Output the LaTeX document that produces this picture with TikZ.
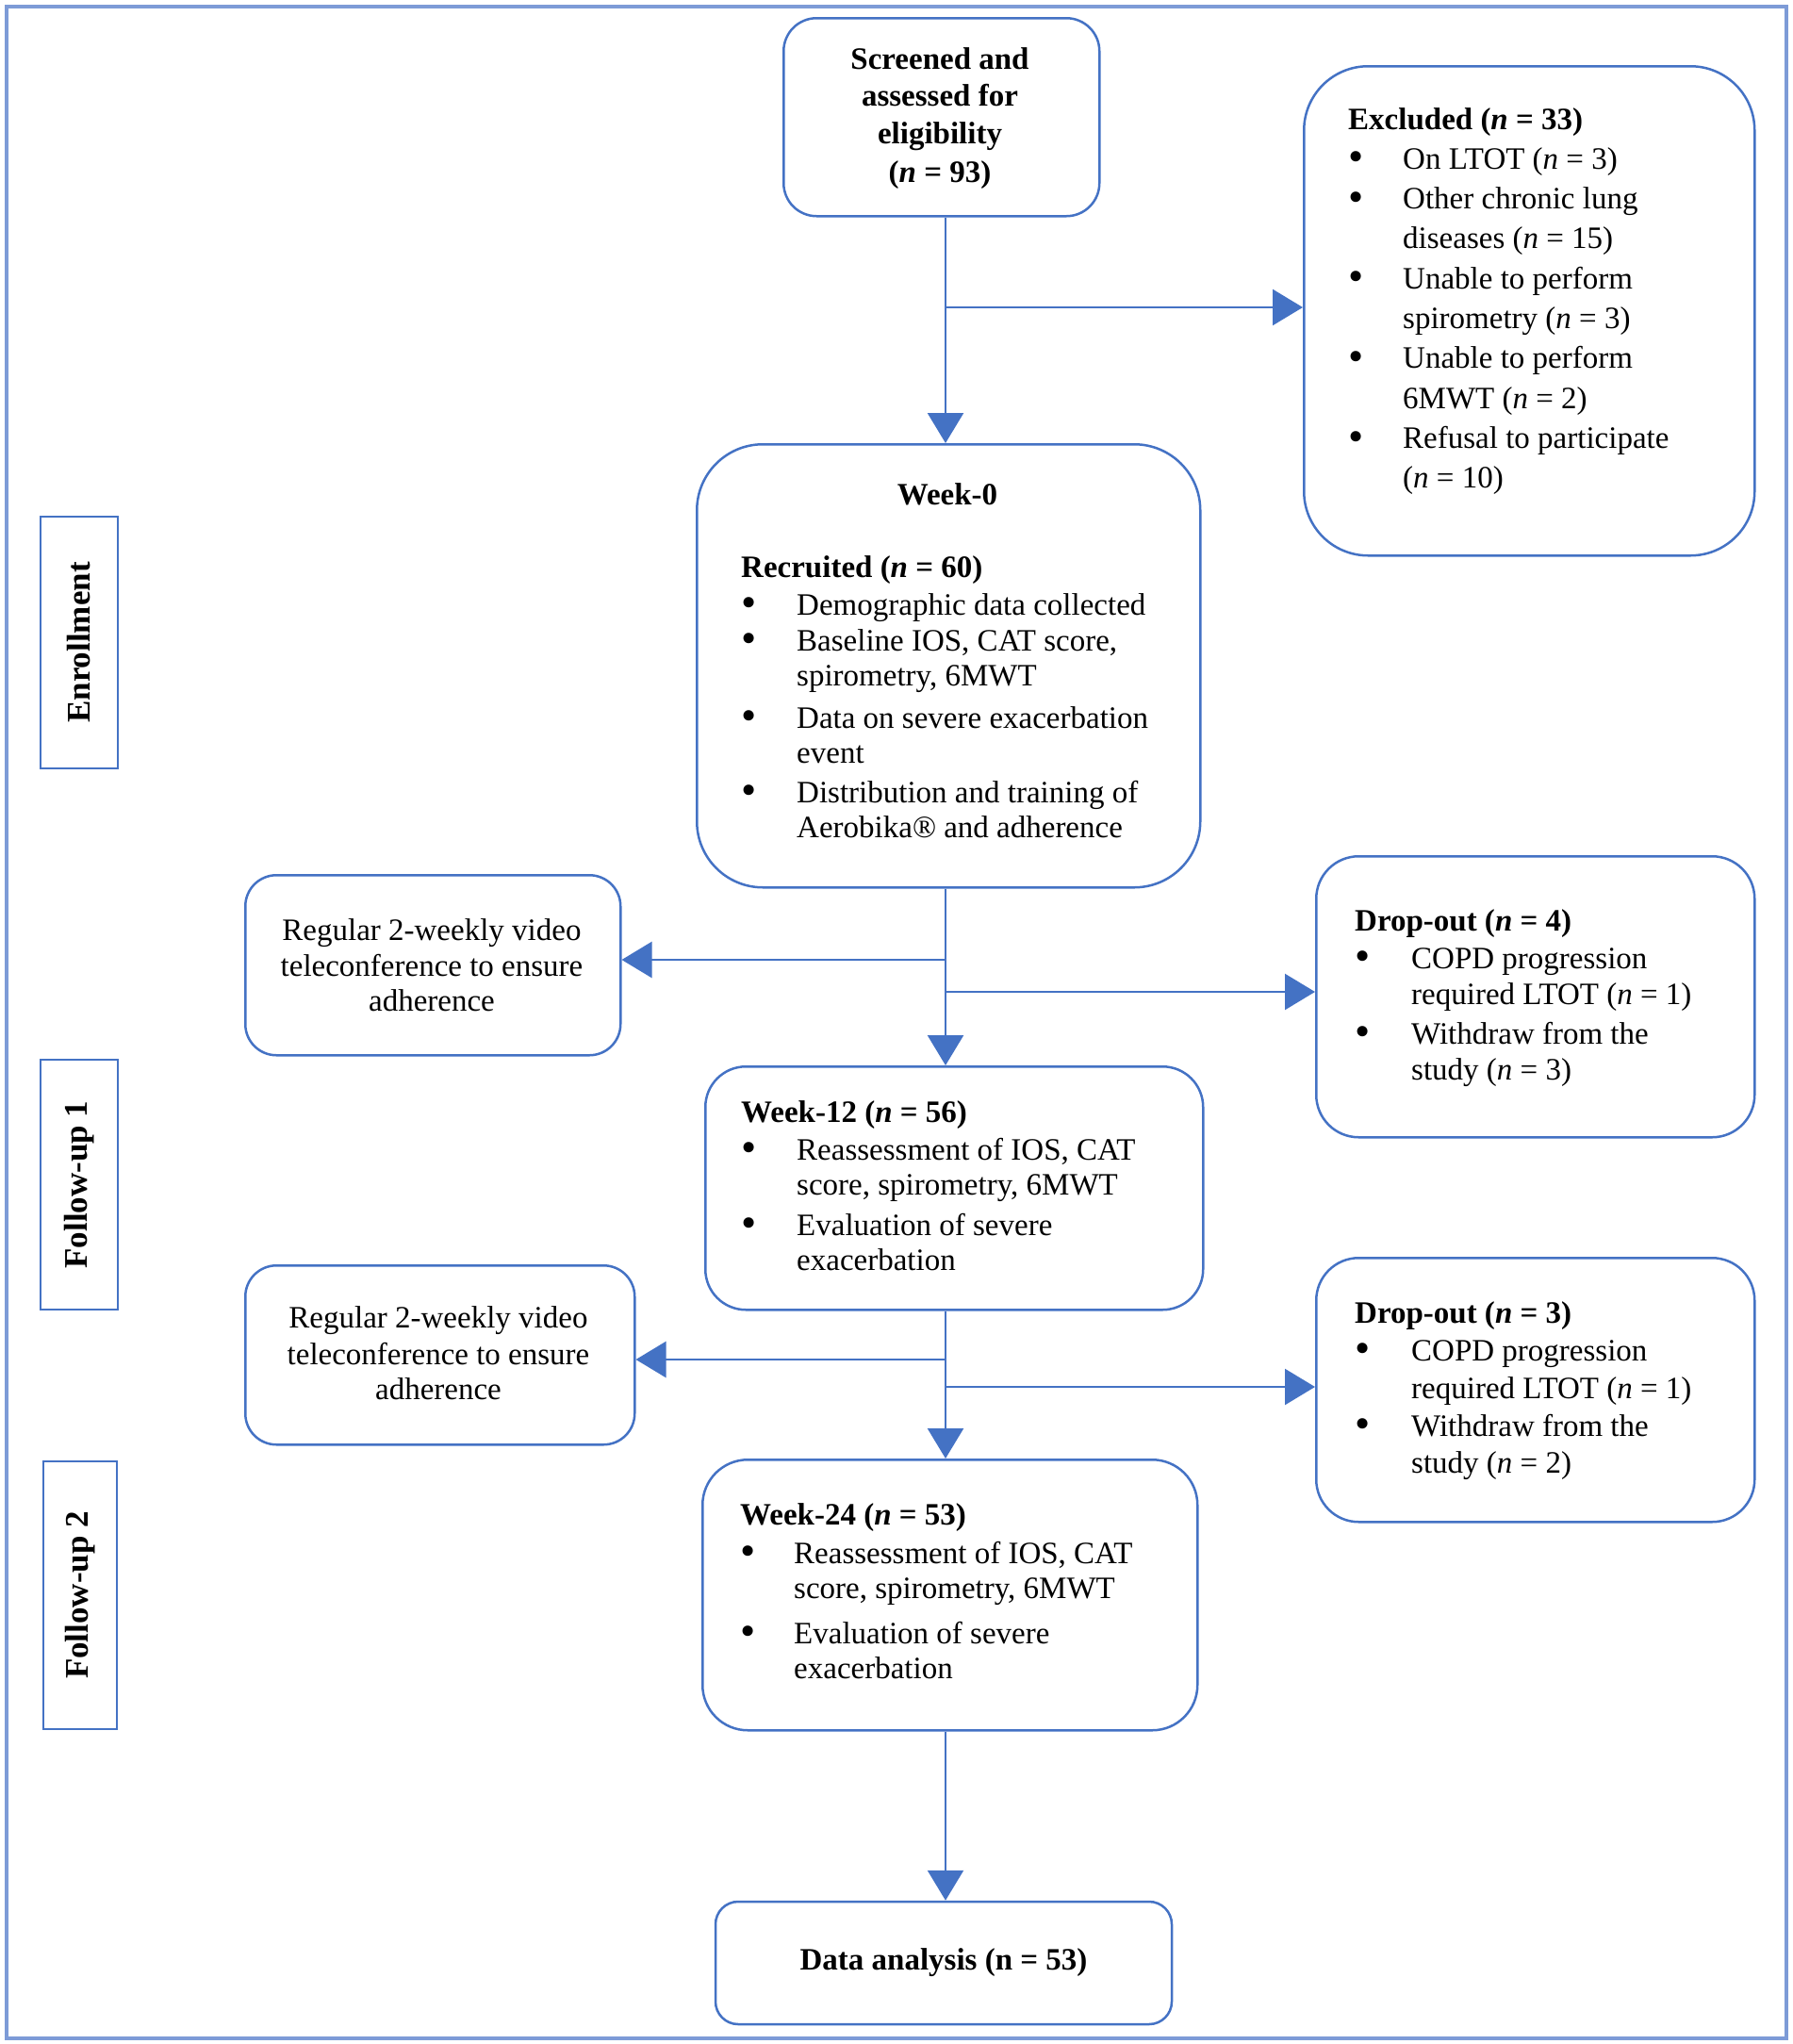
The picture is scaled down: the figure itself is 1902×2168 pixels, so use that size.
\documentclass[tikz,border=0pt]{standalone}
\usepackage{fontspec}
\setmainfont{Liberation Serif}
\usetikzlibrary{arrows.meta}
\definecolor{wblue}{RGB}{68,114,196}
\definecolor{oblue}{RGB}{125,155,215}
\newcommand\bul[1][58pt]{\makebox[#1][l]{\raisebox{-0.08em}{\scalebox{1.4}{\textbullet}}}}
\tikzset{
  rbox/.style={draw=wblue, line width=2.5pt, rounded corners=#1, inner sep=0pt, anchor=north west,
               font=\fontsize{33}{37}\selectfont},
  lbl/.style={draw=wblue, line width=2.5pt, inner sep=0pt, rotate=90,
               font=\fontsize{35}{40}\selectfont\bfseries},
  txt/.style={inner sep=0pt, font=\fontsize{33}{37}\selectfont},
  conn/.style={draw=wblue, line width=2.5pt, -{Triangle[length=32pt,width=38pt]}},
}
\begin{document}
\begin{tikzpicture}[x=1pt,y=-1pt]
\useasboundingbox (0,0) rectangle (1902,2168);
\draw[oblue, line width=4.5pt] (7,7) rectangle (1895,2162);

% frames
\node[rbox=35pt, minimum width=335pt, minimum height=210pt] (screened) at (830,18) {};
\node[rbox=68pt, minimum width=478pt, minimum height=519pt] (excl) at (1382,69) {};
\node[rbox=70pt, minimum width=534pt, minimum height=470pt] (week0) at (738,470) {};
\node[rbox=33pt, minimum width=398pt, minimum height=191pt] (reg1) at (259,927) {};
\node[rbox=45pt, minimum width=465pt, minimum height=298pt] (drop1) at (1395,907) {};
\node[rbox=43pt, minimum width=528pt, minimum height=258pt] (week12) at (747,1130) {};
\node[rbox=33pt, minimum width=413pt, minimum height=190pt] (reg2) at (259,1341) {};
\node[rbox=45pt, minimum width=465pt, minimum height=280pt] (drop2) at (1395,1333) {};
\node[rbox=48pt, minimum width=525pt, minimum height=287pt] (week24) at (744,1547) {};
\node[rbox=24pt, minimum width=484pt, minimum height=130pt, anchor=center] (data) at (1001,2082) {\textbf{Data analysis (n = 53)}};

% phase labels
\node[lbl, minimum width=267pt, minimum height=82pt] (enroll) at (84,681.5) {Enrollment};
\node[lbl, minimum width=265pt, minimum height=82pt] (fu1) at (84,1256.5) {Follow-up 1};
\node[lbl, minimum width=284pt, minimum height=78pt] (fu2) at (85,1692) {Follow-up 2};

% texts
\node[txt, anchor=base] (screenedT) at (997,73) {\begin{tabular}[t]{@{}c@{}}
\textbf{Screened and}\\[2pt]
\textbf{assessed for}\\[3pt]
\textbf{eligibility}\\[4pt]
\textbf{(\textit{n} = 93)}
\end{tabular}};

\node[txt, anchor=base west] (exclT) at (1430,137) {\def\arraystretch{1.144}\begin{tabular}[t]{@{}l@{}l@{}}
\multicolumn{2}{@{}l@{}}{\textbf{Excluded (\textit{n} = 33)}}\\
\bul & On LTOT (\textit{n} = 3)\\
\bul & Other chronic lung\\
 & diseases (\textit{n} = 15)\\
\bul & Unable to perform\\
 & spirometry (\textit{n} = 3)\\
\bul & Unable to perform\\
 & 6MWT (\textit{n} = 2)\\
\bul & Refusal to participate\\
 & (\textit{n} = 10)
\end{tabular}};

\node[txt, anchor=base] (week0title) at (1005,535) {\textbf{Week-0}};
\node[txt, anchor=base west] (week0T) at (786,612) {\begin{tabular}[t]{@{}l@{}l@{}}
\multicolumn{2}{@{}l@{}}{\textbf{Recruited (\textit{n} = 60)}}\\[3pt]
\bul[59pt] & Demographic data collected\\[1pt]
\bul[59pt] & Baseline IOS, CAT score,\\
 & spirometry, 6MWT\\[8pt]
\bul[59pt] & Data on severe exacerbation\\
 & event\\[5pt]
\bul[59pt] & Distribution and training of\\
 & Aerobika® and adherence
\end{tabular}};

\node[txt, anchor=base] (reg1T) at (458,997) {\begin{tabular}[t]{@{}c@{}}
Regular 2-weekly video\\[1pt]
teleconference to ensure\\
adherence
\end{tabular}};

\node[txt, anchor=base west] (drop1T) at (1437,987) {\begin{tabular}[t]{@{}l@{}l@{}}
\multicolumn{2}{@{}l@{}}{\textbf{Drop-out (\textit{n} = 4)}}\\[3pt]
\bul[60pt] & COPD progression\\[1pt]
 & required LTOT (\textit{n} = 1)\\[5pt]
\bul[60pt] & Withdraw from the\\[1pt]
 & study (\textit{n} = 3)
\end{tabular}};

\node[txt, anchor=base west] (week12T) at (786,1190) {\begin{tabular}[t]{@{}l@{}l@{}}
\multicolumn{2}{@{}l@{}}{\textbf{Week-12 (\textit{n} = 56)}}\\[3pt]
\bul[59pt] & Reassessment of IOS, CAT\\
 & score, spirometry, 6MWT\\[6pt]
\bul[59pt] & Evaluation of severe\\
 & exacerbation
\end{tabular}};

\node[txt, anchor=base] (reg2T) at (465,1408) {\begin{tabular}[t]{@{}c@{}}
Regular 2-weekly video\\[2pt]
teleconference to ensure\\
adherence
\end{tabular}};

\node[txt, anchor=base west] (drop2T) at (1437,1403) {\begin{tabular}[t]{@{}l@{}l@{}}
\multicolumn{2}{@{}l@{}}{\textbf{Drop-out (\textit{n} = 3)}}\\[3pt]
\bul[60pt] & COPD progression\\[3pt]
 & required LTOT (\textit{n} = 1)\\[3pt]
\bul[60pt] & Withdraw from the\\[2pt]
 & study (\textit{n} = 2)
\end{tabular}};

\node[txt, anchor=base west] (week24T) at (785,1617) {\begin{tabular}[t]{@{}l@{}l@{}}
\multicolumn{2}{@{}l@{}}{\textbf{Week-24 (\textit{n} = 53)}}\\[4pt]
\bul[57pt] & Reassessment of IOS, CAT\\
 & score, spirometry, 6MWT\\[11pt]
\bul[57pt] & Evaluation of severe\\
 & exacerbation
\end{tabular}};

% connectors
\coordinate (trunk) at (1003,0);
\coordinate (j1) at (1003,326);
\coordinate (j2) at (1003,1018);
\coordinate (j3) at (1003,1052);
\coordinate (j4) at (1003,1442);
\coordinate (j5) at (1003,1471);
\draw[conn] (screened.south -| trunk) -- (week0.north -| trunk);
\draw[conn] (j1) -- (j1 -| excl.west);
\draw[conn] (week0.south -| trunk) -- (week12.north -| trunk);
\draw[conn] (j2) -- (j2 -| reg1.east);
\draw[conn] (j3) -- (j3 -| drop1.west);
\draw[conn] (week12.south -| trunk) -- (week24.north -| trunk);
\draw[conn] (j4) -- (j4 -| reg2.east);
\draw[conn] (j5) -- (j5 -| drop2.west);
\draw[conn] (week24.south -| trunk) -- (data.north -| trunk);
\end{tikzpicture}
\end{document}
